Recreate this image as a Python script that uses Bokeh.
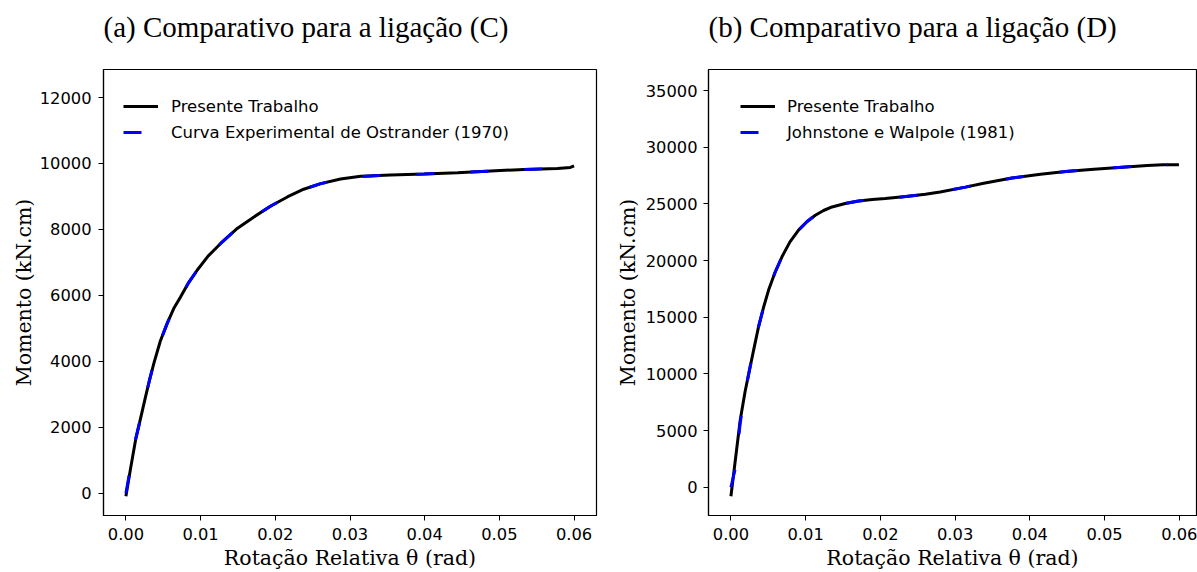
from bokeh.plotting import figure
from bokeh.models import Range1d, FixedTicker, NumeralTickFormatter, Legend, LegendItem, Title
from bokeh.layouts import row
from bokeh.embed import file_html
from bokeh.resources import INLINE

# ---------------- data ----------------
titles = ["(a) Comparativo para a ligação (C)", "(b) Comparativo para a ligação (D)"]
x_label = "Rotação Relativa θ (rad)"
y_label = "Momento (kN.cm)"
x_ticks = [0.0, 0.01, 0.02, 0.03, 0.04, 0.05, 0.06]
y_ticks_c = [0, 2000, 4000, 6000, 8000, 10000, 12000]
y_ticks_d = [0, 5000, 10000, 15000, 20000, 25000, 30000, 35000]

labels_c = ["Presente Trabalho", "Curva Experimental de Ostrander (1970)"]
labels_d = ["Presente Trabalho", "Johnstone e Walpole (1981)"]

# (C) present work
c_model_rot = [0.0, 0.0006, 0.0013, 0.0020, 0.00264, 0.0032, 0.00375, 0.0046, 0.00554, 0.0064,
               0.00733, 0.0084, 0.00956, 0.0110, 0.01268, 0.0148, 0.01714, 0.0194, 0.02161, 0.0238,
               0.02608, 0.02873, 0.03143, 0.03544, 0.0399, 0.04438, 0.04884, 0.0533, 0.05777, 0.0595,
               0.0600]
c_model_mom = [-90, 720, 1625, 2310, 2935, 3470, 3945, 4610, 5160, 5600,
               5960, 6390, 6770, 7190, 7575, 8010, 8380, 8710, 8985, 9220,
               9390, 9530, 9610, 9650, 9680, 9720, 9770, 9820, 9850, 9880,
               9930]
# (C) experimental (Ostrander 1970)
c_exp_rot = [0.0, 0.0006, 0.0013, 0.0020, 0.00264, 0.0032, 0.00375, 0.0046, 0.00554, 0.0064,
             0.00733, 0.0084, 0.00956, 0.0110, 0.01268, 0.0148, 0.01714, 0.0194, 0.02161, 0.0238,
             0.02608, 0.02873, 0.03143, 0.03544, 0.0399, 0.04438, 0.04884, 0.0533, 0.05777, 0.0590]
c_exp_mom = [0, 760, 1640, 2310, 2935, 3470, 3945, 4610, 5160, 5600,
             5960, 6390, 6770, 7190, 7575, 8010, 8380, 8710, 8985, 9220,
             9390, 9520, 9600, 9650, 9680, 9720, 9770, 9820, 9850, 9860]

# (D) present work
d_model_rot = [0.0, 0.0006, 0.00125, 0.0019, 0.00258, 0.0031, 0.0037, 0.0044, 0.00504, 0.0059,
               0.00683, 0.0079, 0.00905, 0.0102, 0.01129, 0.0124, 0.01353, 0.0153, 0.01709, 0.0189,
               0.02066, 0.0234, 0.02602, 0.0280, 0.03138, 0.03383, 0.0376, 0.04142, 0.0448, 0.04812,
               0.0519, 0.05571, 0.0578, 0.05995]
d_model_mom = [-790, 2450, 5960, 8450, 10650, 12300, 14170, 15950, 17400, 18950,
               20335, 21650, 22685, 23450, 24005, 24420, 24735, 25040, 25265, 25390,
               25475, 25650, 25855, 26060, 26480, 26820, 27280, 27620, 27860, 28030,
               28220, 28400, 28460, 28450]
# (D) experimental (Johnstone e Walpole 1981)
d_exp_rot = [0.0, 0.0006, 0.00125, 0.0019, 0.00258, 0.0031, 0.0037, 0.0044, 0.00504, 0.0059,
             0.00683, 0.0079, 0.00905, 0.0102, 0.01129, 0.0124, 0.01353, 0.0153, 0.01709, 0.0189,
             0.02066, 0.0234, 0.02602, 0.0280, 0.03138, 0.03383, 0.0376, 0.04142, 0.0448, 0.04812,
             0.0519, 0.05571, 0.0585]
d_exp_mom = [0, 1700, 5700, 8400, 10650, 12300, 14170, 15950, 17400, 18950,
             20335, 21650, 22685, 23450, 24005, 24420, 24735, 25040, 25265, 25390,
             25475, 25650, 25855, 26060, 26480, 26820, 27280, 27620, 27860, 28030,
             28220, 28400, 28460]


def make_panel(title, xr, yr, yticks, xm, ym, xe, ye, labels, width, border_left, border_right,
               leg_x, leg_standoff, ylab_standoff, ytick_standoff):
    p = figure(width=width, height=572, output_backend="svg", toolbar_location=None,
               title=None,
               x_range=Range1d(*xr), y_range=Range1d(*yr),
               min_border_left=border_left, min_border_right=border_right,
               min_border_top=69, min_border_bottom=56)
    # spacer panel between frame and title (keeps the title higher up)
    p.add_layout(Title(text=" ", text_font_size="1px", standoff=24), "above")
    p.add_layout(Title(text=title, align="left", offset=0,
                       text_font="Liberation Serif", text_font_size="29px",
                       text_font_style="normal", text_color="black", standoff=0), "above")

    p.grid.visible = False
    p.outline_line_color = "black"
    p.outline_line_width = 1.2
    p.outline_line_alpha = 1.0
    p.background_fill_color = "white"
    p.border_fill_color = "white"

    for ax in (p.xaxis[0], p.yaxis[0]):
        ax.axis_line_color = "black"
        ax.axis_line_width = 1.2
        ax.major_tick_in = 0
        ax.major_tick_out = 5
        ax.major_tick_line_color = "black"
        ax.major_tick_line_width = 1
        ax.minor_tick_line_color = None
        ax.major_label_text_font = "DejaVu Sans"
        ax.major_label_text_font_size = "16.3px"
        ax.major_label_text_color = "black"
        ax.axis_label_text_font = "DejaVu Serif"
        ax.axis_label_text_font_size = "20.5px"
        ax.axis_label_text_font_style = "normal"
        ax.axis_label_text_color = "black"

    p.xaxis.ticker = FixedTicker(ticks=x_ticks)
    p.xaxis.formatter = NumeralTickFormatter(format="0.00")
    p.xaxis.axis_label = x_label
    p.xaxis.major_label_standoff = 7
    p.xaxis.axis_label_standoff = 3

    p.yaxis.ticker = FixedTicker(ticks=yticks)
    p.yaxis.formatter = NumeralTickFormatter(format="0")
    p.yaxis.axis_label = y_label
    p.yaxis.major_label_standoff = ytick_standoff
    p.yaxis.axis_label_standoff = ylab_standoff

    r1 = p.line(xm, ym, line_color="black", line_width=3)
    r2 = p.line(xe, ye, line_color="blue", line_width=3, line_dash="18 36")

    legend = Legend(items=[LegendItem(label=labels[0], renderers=[r1]),
                           LegendItem(label=labels[1], renderers=[r2])],
                    location=(leg_x, 373), border_line_color=None,
                    background_fill_alpha=0, padding=0, margin=0, spacing=6,
                    glyph_width=35, glyph_height=20, label_height=20,
                    label_standoff=leg_standoff,
                    label_text_font="DejaVu Sans", label_text_font_size="16.5px",
                    label_text_color="black")
    p.add_layout(legend)
    return p


p1 = make_panel(titles[0], (-0.003, 0.063), (-675, 12850), y_ticks_c,
                c_model_rot, c_model_mom, c_exp_rot, c_exp_mom, labels_c,
                600, 103, 4, 20, 13, 1, 7)
p2 = make_panel(titles[1], (-0.003, 0.0623), (-2490, 36860), y_ticks_d,
                d_model_rot, d_model_mom, d_exp_rot, d_exp_mom, labels_d,
                597, 108, 1, 32, 12, 3, 6)

layout = row(p1, p2)
open("out.html", "w").write(file_html(layout, INLINE))
